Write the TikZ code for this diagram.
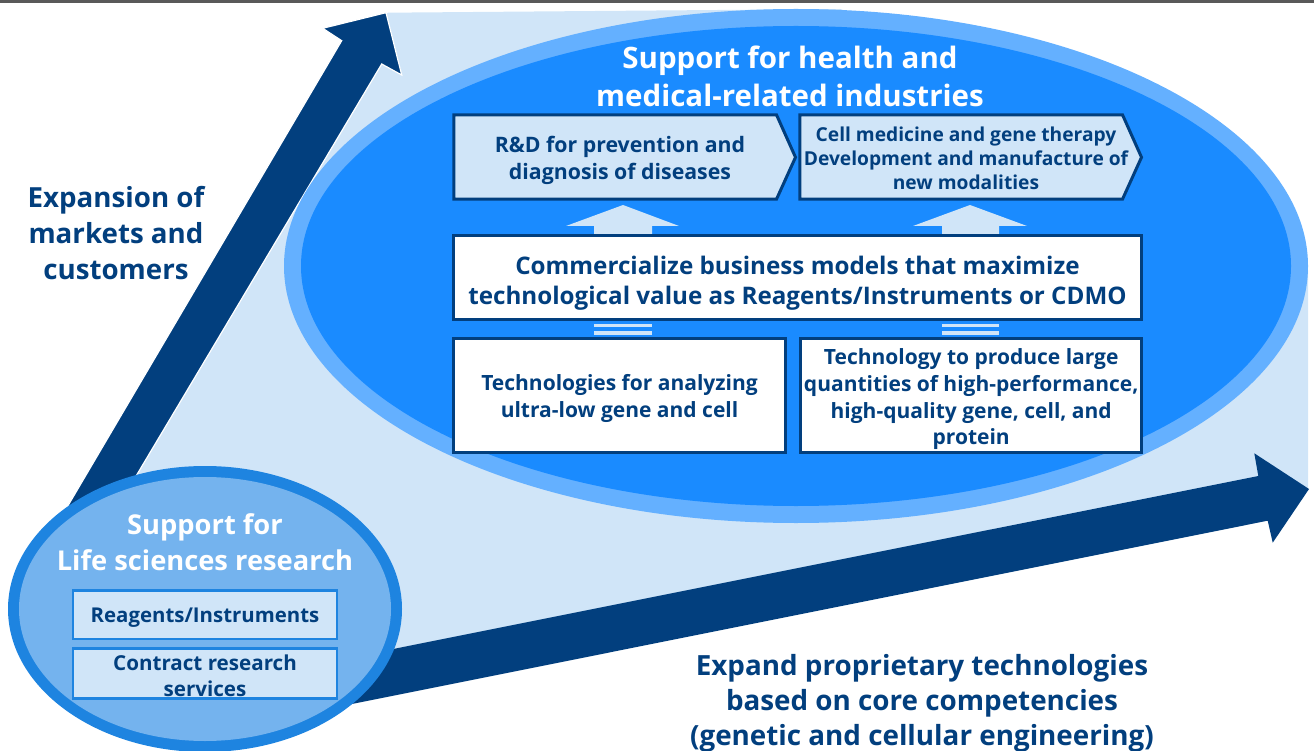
\documentclass[tikz,border=0pt]{standalone}
\usepackage{fontspec}
\setmainfont{Open Sans}
\definecolor{navy}{HTML}{023F7E}
\definecolor{pale}{HTML}{D0E5F8}
\definecolor{bright}{HTML}{1A8BFF}
\definecolor{ringbig}{HTML}{64B0FF}
\definecolor{soft}{HTML}{74B3EE}
\definecolor{ringsmall}{HTML}{1E84E0}
\definecolor{rulegray}{HTML}{595959}
\newcommand{\fsz}[2]{\fontsize{#1}{#2}\selectfont\bfseries}
\begin{document}
\begin{tikzpicture}[x=1pt,y=-1pt,
  whitebox/.style={draw=navy, line width=3pt, fill=white, inner sep=0pt},
  chevbox/.style={draw=navy, line width=3pt, fill=pale, line join=miter},
  label/.style={text=navy, align=center, inner sep=0pt},
  smallbox/.style={draw=ringsmall, line width=2.5pt, fill=pale, inner sep=0pt, minimum width=264pt},
  blockup/.style={fill=pale},
  bigarrow/.style={fill=navy}]
\useasboundingbox (0,0) rectangle (1314,751);

% thin rule along the top edge
\fill[rulegray] (0,0) rectangle (1314,3);

% pale field between the two growth arrows
\fill[pale] (388,12.7) -- (840,9) -- (1200,120) -- (1308,270) -- (1308,489)
  -- (300,665) -- (200,600) -- (120,470) -- (360,40) -- cycle;

% growth arrow pointing up
\filldraw[bigarrow, draw=white, line width=1.2pt, line join=miter]
  (36,560) -- (341.7,40.7) -- (322.7,28.3) -- (386,12.7) -- (401.7,75) -- (381.7,64) -- (86,560) -- cycle;

% growth arrow pointing right
\fill[bigarrow] (250,677.6) -- (1258.3,476) -- (1254.3,453.3) -- (1309,489)
  -- (1272.7,542.7) -- (1267.7,520.7) -- (250,724.4) -- cycle;

% large ellipse: health and medical industries
\fill[ringbig] (796,266) ellipse [x radius=512pt, y radius=257pt];
\fill[bright] (796,266) ellipse [x radius=495pt, y radius=240pt];

\node[text=white, align=center, inner sep=0pt, font={\fsz{29.5}{38}}] (health) at (790,76)
  {Support for health and\\medical-related industries};

% pointed boxes along the top row
\draw[chevbox] (453.8,114.8) -- (776.5,114.8) -- (795.5,157.3) -- (776.5,199.2) -- (453.8,199.2) -- cycle;
\node[label, font={\fsz{21.3}{27}}] (rd) at (620,160.5) {R\&D for prevention and\\diagnosis of diseases};

\draw[chevbox] (799.8,114.8) -- (1122.5,114.8) -- (1141.5,157.3) -- (1122.5,199.2) -- (799.8,199.2) -- cycle;
\node[label, font={\fsz{19.2}{24}}] (cell) at (966,158) {Cell medicine and gene therapy\\Development and manufacture of\\new modalities};

% pale block arrows rising into the top row
\fill[blockup] (594,234) -- (594,226) -- (566,226) -- (623,205) -- (679,226) -- (652,226) -- (652,234) -- cycle;
\fill[blockup] (942,234) -- (942,226) -- (913,226) -- (970,205) -- (1027,226) -- (999,226) -- (999,234) -- cycle;

% central business-model box
\node[whitebox, minimum width=687.4pt, minimum height=83.4pt] (commerce) at (797.5,277.5) {};
\node[label, font={\fsz{24.2}{30}}] (commercetext) at (797.5,283.5)
  {Commercialize business models that maximize\\technological value as Reagents/Instruments or CDMO};

% double bars linking technologies to the business model
\fill[pale] (594,324) rectangle (652,327.3);
\fill[pale] (594,331.3) rectangle (652,334.7);
\fill[pale] (942,324) rectangle (999,327.3);
\fill[pale] (942,331.3) rectangle (999,334.7);

% core technology boxes
\node[whitebox, minimum width=331.4pt, minimum height=114.3pt] (analyze) at (619.5,395.3) {};
\node[label, font={\fsz{21}{27}}] (analyzetext) at (619.5,398.3)
  {Technologies for analyzing\\ultra-low gene and cell};
\node[whitebox, minimum width=340.7pt, minimum height=114.3pt] (produce) at (971.2,395.3) {};
\node[label, font={\fsz{21}{26.7}}] (producetext) at (971.2,399.3)
  {Technology to produce large\\quantities of high-performance,\\high-quality gene, cell, and\\protein};

% side captions
\node[label, font={\fsz{27.7}{36}}] (markets) at (116,233) {Expansion of\\markets and\\customers};
\node[label, font={\fsz{27.8}{35}}] (competence) at (922,703) {Expand proprietary technologies\\based on core competencies\\(genetic and cellular engineering)};

% small ellipse: life sciences research
\fill[ringsmall] (205,609) ellipse [x radius=197pt, y radius=143pt];
\fill[soft] (205,609) ellipse [x radius=186pt, y radius=132pt];

\node[text=white, align=center, inner sep=0pt, font={\fsz{27.3}{36}}] (life) at (205,542)
  {Support for\\Life sciences research};
\node[smallbox, minimum height=48.5pt] (reagents) at (205,614.5) {};
\node[label, font={\fsz{20.4}{26}}] (reagentstext) at (205,617.5) {Reagents/Instruments};
\node[smallbox, minimum height=50pt] (contract) at (205,673.7) {};
\node[label, font={\fsz{20.6}{26}}] (contracttext) at (205,675.7) {Contract research\\services};
\end{tikzpicture}
\end{document}
